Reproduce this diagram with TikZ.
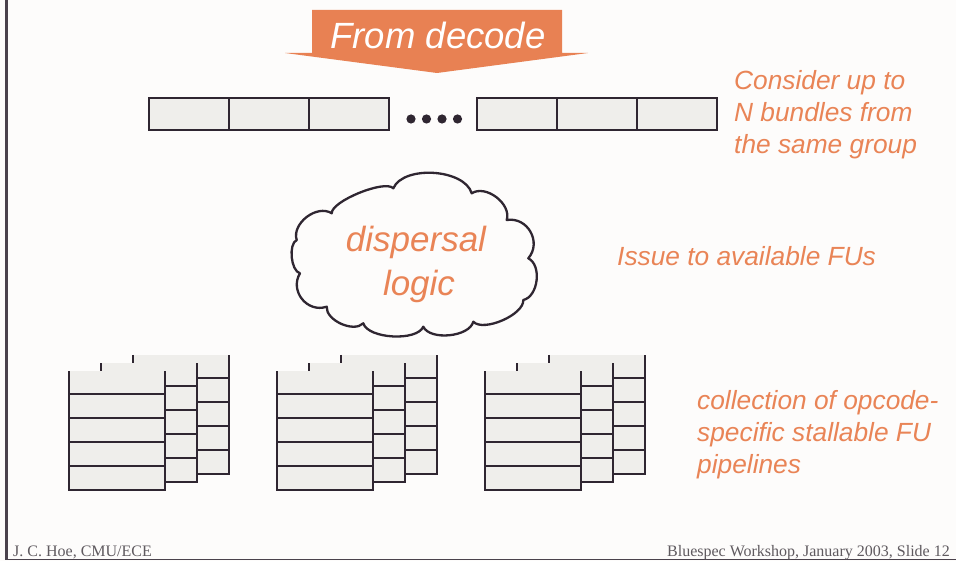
\documentclass[tikz,border=0pt]{standalone}
\usepackage{fontspec}
\setmainfont{Liberation Sans}
\newfontfamily\footfont{Liberation Serif}
\definecolor{pagebg}{HTML}{FDFCFB}
\definecolor{cellfill}{HTML}{EFEEEB}
\definecolor{ink}{HTML}{2F2631}
\definecolor{accent}{HTML}{E88153}
\definecolor{accenttext}{HTML}{E98456}
\definecolor{footgray}{HTML}{5F5A5F}
\definecolor{framegray}{HTML}{4A424C}
\begin{document}
\begin{tikzpicture}[x=1pt,y=-1pt,
  cell/.style={draw=ink, fill=cellfill, line width=2pt, minimum width=80pt,
    minimum height=32pt, inner sep=0pt},
  sheetline/.style={draw=ink, line width=2pt},
  note/.style={text=accenttext, inner sep=0pt, anchor=base west,
    font=\fontsize{26.3}{31}\selectfont\itshape},
  cloudtext/.style={text=accenttext, inner sep=0pt, anchor=base,
    font=\fontsize{35}{40}\selectfont\itshape},
  foot/.style={text=footgray, inner sep=0pt, font=\footfont\fontsize{16}{18}\selectfont},
  puff/.style={bend left=70, looseness=#1}]

% page and slide frame
\fill[pagebg] (0,0) rectangle (956,561);
\useasboundingbox (0,0) rectangle (956,561);
\draw[framegray, line width=2.5pt] (6.5,0) -- (6.5,559.5);
\draw[framegray, line width=1.5pt] (6.5,559.5) -- (956,559.5);

% incoming arrow
\fill[accent] (312,10) -- (562,10) -- (562,53) -- (588,53) -- (437,73)
  -- (285,53) -- (312,53) -- cycle;
\node[text=white, inner sep=0pt, anchor=base,
  font=\fontsize{36.5}{40}\selectfont\itshape] (fromdec) at (438,49) {From decode};

% bundle slots
\node[cell] (b1) at (189,114) {};
\node[cell] (b2) at (269,114) {};
\node[cell] (b3) at (349,114) {};
\node[cell] (b4) at (517,114) {};
\node[cell] (b5) at (597,114) {};
\node[cell] (b6) at (677,114) {};
\foreach \x in {411,426.5,442,457.5}
  \fill[ink] (\x,119) circle (4.6pt);

% dispersal logic cloud
\filldraw[draw=ink, fill=pagebg, line width=2.3pt, line join=round]
  (296.7,240) to[puff=1.01] (331.7,213.3) to[puff=0.47] (393.3,188.3)
  to[puff=0.83] (471.7,193.3) to[puff=0.98] (506.7,220)
  to[puff=1.23] (528.3,258.3) to[puff=0.94] (523.3,300)
  to[puff=0.69] (473.3,321.7) to[puff=0.80] (423.3,326.7)
  to[puff=0.69] (363.3,323.3) to[puff=0.87] (326.7,306.7)
  to[puff=1.23] (300,273.3) to[puff=0.72] (296.7,240) -- cycle;
\node[cloudtext] (disp) at (416,252) {dispersal};
\node[cloudtext] (logic) at (419,296) {logic};

% functional unit pipelines
\foreach \s in {0,208,416}{
  \foreach \dx/\t in {64/355, 32/363, 0/371}{
    \fill[cellfill] (69+\s+\dx,\t) rectangle ++(96,119);
    \draw[sheetline] (69+\s+\dx,\t) -- ++(0,119) -- ++(96,0) -- ++(0,-119);
    \foreach \d in {23,47,71,95}
      \draw[sheetline] (69+\s+\dx,\t+\d) -- ++(96,0);
  }
}

% annotations
\node[note] (c1) at (734,90) {Consider up to};
\node[note] (c2) at (734,122) {N bundles from};
\node[note] (c3) at (734,154) {the same group};
\node[note] (issue) at (617,266) {Issue to available FUs};
\node[note] (f1) at (697,409) {collection of opcode-};
\node[note] (f2) at (697,441) {specific stallable FU};
\node[note] (f3) at (697,473) {pipelines};

% footer
\node[foot, anchor=base west] (author) at (13,556) {J. C. Hoe, CMU/ECE};
\node[foot, anchor=base east] (venue) at (950,556) {Bluespec Workshop, January 2003, Slide 12};
\end{tikzpicture}
\end{document}
